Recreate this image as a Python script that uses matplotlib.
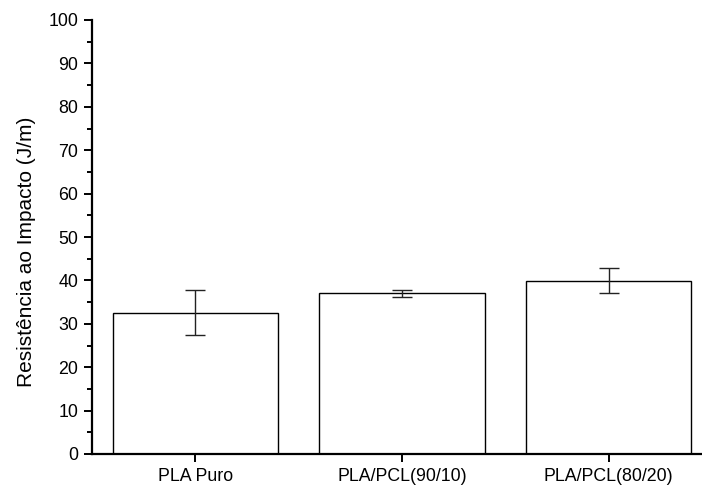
import matplotlib.pyplot as plt
from matplotlib.ticker import MultipleLocator

plt.rcParams['font.family'] = ['Liberation Sans', 'DejaVu Sans']

amostras = ["PLA Puro", "PLA/PCL(90/10)", "PLA/PCL(80/20)"]
resistencia = [32.6, 37.0, 39.9]
desvio = [5.2, 0.9, 2.9]

fig = plt.figure(figsize=(7.02, 4.93), dpi=100)
ax = fig.add_axes([92 / 702, 39 / 493, 620 / 702, 434 / 493])

x = range(len(amostras))
ax.bar(x, resistencia, width=0.8, color="white", edgecolor="black", linewidth=1.0, zorder=2)
ax.errorbar(x, resistencia, yerr=desvio, fmt="none", ecolor="#222222",
            elinewidth=1.0, capsize=7, capthick=1.0, zorder=3)

ax.set_xlim(-0.5, 2.5)
ax.set_ylim(0, 100)
ax.set_xticks(list(x))
ax.set_xticklabels(amostras)
ax.yaxis.set_major_locator(MultipleLocator(10))
ax.yaxis.set_minor_locator(MultipleLocator(5))
ax.set_ylabel("Resistência ao Impacto (J/m)", fontsize=15)
ax.yaxis.set_label_coords(-0.090, 0.465)

for s in ["top", "right"]:
    ax.spines[s].set_visible(False)
for s in ["left", "bottom"]:
    ax.spines[s].set_linewidth(1.6)
ax.tick_params(axis="both", which="major", direction="out", length=5.8, width=1.4,
               labelsize=12.8, pad=4)
ax.tick_params(axis="y", which="minor", direction="out", length=3.5, width=1.4)

fig.savefig("out.png", dpi=100)
